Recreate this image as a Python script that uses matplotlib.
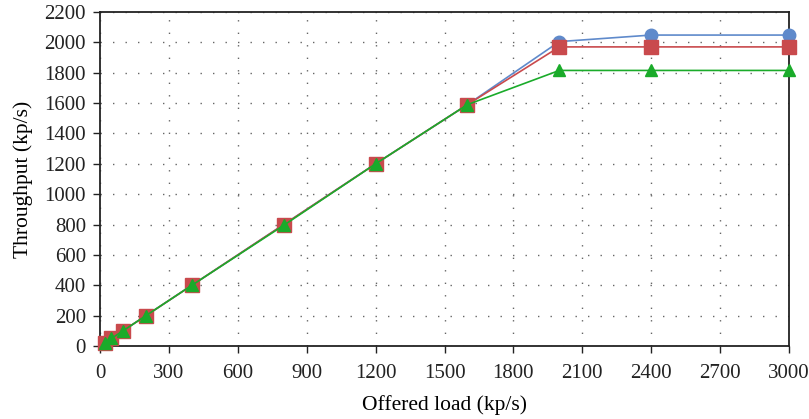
import matplotlib.pyplot as plt
import numpy as np

# offered load vs throughput
load = [20, 50, 100, 200, 400, 800, 1200, 1600, 2000, 2400, 3000]
thr_blue = [20, 50, 100, 200, 400, 800, 1200, 1590, 2005, 2048, 2048]
thr_red = [20, 50, 100, 200, 400, 800, 1200, 1590, 1970, 1970, 1970]
thr_green = [20, 50, 100, 200, 400, 795, 1200, 1590, 1815, 1815, 1815]

x_ticks = [0, 300, 600, 900, 1200, 1500, 1800, 2100, 2400, 2700, 3000]
y_ticks = list(range(0, 2201, 200))

plt.rcParams['font.family'] = ['Liberation Serif', 'DejaVu Serif']

fig = plt.figure(figsize=(8.09, 4.19), dpi=100)
ax = fig.add_axes([0.1236, 0.1742, 0.8517, 0.7972])

ax.plot(load, thr_blue, '-o', color='#5f8acb', lw=1.2, ms=9, zorder=3, clip_on=False)
ax.plot(load, thr_red, '-s', color='#c94a4d', lw=1.2, ms=9.5, zorder=4, clip_on=False)
ax.plot(load, thr_green, '-^', color='#1aab2a', lw=1.2, ms=8, zorder=5, clip_on=False)

ax.set_xlim(0, 3000)
ax.set_ylim(0, 2200)
ax.set_xticks(x_ticks)
ax.set_yticks(y_ticks)
ax.grid(True, linestyle=(0, (1, 8)), color='#666666', lw=1.0)
ax.tick_params(direction='out', length=5, width=1, labelsize=15, colors='#222222', pad=5)
ax.tick_params(axis='x', pad=8)
for sp in ax.spines.values():
    sp.set_linewidth(1.3)
    sp.set_color('#222222')

ax.set_xlabel('Offered load (kp/s)', fontsize=15.5, labelpad=9)
ax.set_ylabel('Throughput (kp/s)', fontsize=15.5, labelpad=8)

fig.savefig('out.png', dpi=100)
